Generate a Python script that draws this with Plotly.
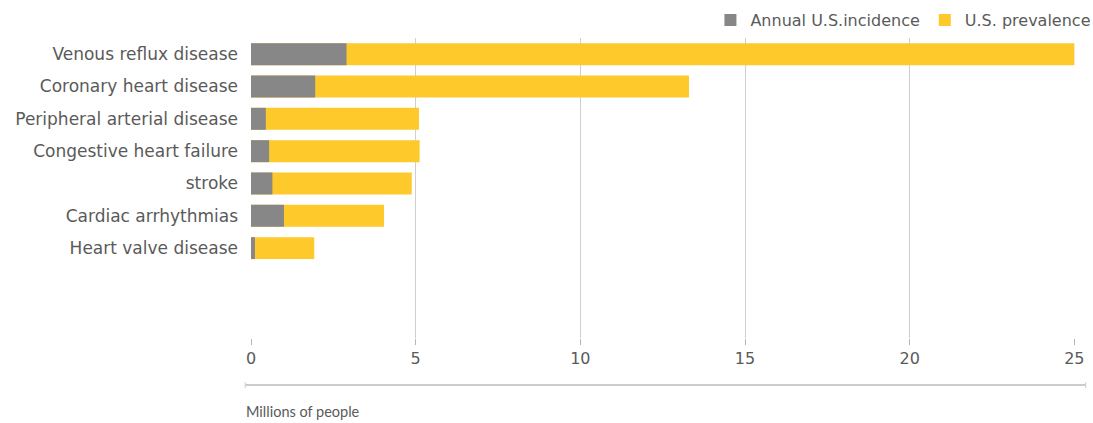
import plotly.graph_objects as go

categories = [
    "Venous reflux disease",
    "Coronary heart disease",
    "Peripheral arterial disease",
    "Congestive heart failure",
    "stroke",
    "Cardiac arrhythmias",
    "Heart valve disease",
]
prevalence = [25.0, 13.3, 5.1, 5.12, 4.88, 4.04, 1.92]
incidence = [2.9, 1.95, 0.45, 0.55, 0.65, 1.0, 0.12]
x_ticks = [0, 5, 10, 15, 20, 25]

GRAY = "#878787"
YELLOW = "#FDC92B"
TEXT = "#5a5a5a"
FONT = "DejaVu Sans"

fig = go.Figure()
fig.add_trace(go.Bar(
    y=categories, x=prevalence, orientation="h", name="U.S. prevalence",
    marker=dict(color=YELLOW, line=dict(width=0)),
))
fig.add_trace(go.Bar(
    y=categories, x=incidence, orientation="h", name="Annual U.S.incidence",
    marker=dict(color=GRAY, line=dict(width=0)),
))

fig.update_layout(
    barmode="overlay",
    bargap=0.32,
    width=1093, height=423,
    margin=dict(l=251, r=18, t=38, b=85, autoexpand=False),
    paper_bgcolor="white",
    plot_bgcolor="white",
    font=dict(family=FONT, size=15, color=TEXT),
    legend=dict(
        orientation="h", traceorder="reversed",
        x=1.026, xanchor="right", y=1.06, yanchor="middle",
        font=dict(family=FONT, size=16, color=TEXT),
        itemwidth=30,
        bgcolor="rgba(0,0,0,0)",
    ),
    xaxis=dict(
        range=[0, 25.02],
        tickvals=x_ticks,
        ticktext=[str(v) for v in x_ticks],
        showgrid=True, gridcolor="#cfcfcf", gridwidth=1,
        zeroline=False,
        ticks="outside", ticklen=6, tickcolor="#b5b5b5",
        tickfont=dict(family=FONT, size=16, color=TEXT),
        showline=False,
    ),
    yaxis=dict(
        categoryorder="array", categoryarray=categories,
        range=[8.78, -0.5],
        showgrid=False, zeroline=False, showline=False,
        ticks="", ticklabelstandoff=12,
        tickfont=dict(family=FONT, size=17, color=TEXT),
    ),
)

# bottom rule with end caps
fig.add_shape(type="line", xref="paper", yref="paper",
              x0=-0.007, x1=1.013, y0=-0.157, y1=-0.157,
              line=dict(color="#cccccc", width=2))
for xc in (-0.007, 1.013):
    fig.add_shape(type="line", xref="paper", yref="paper",
                  x0=xc, x1=xc, y0=-0.147, y1=-0.167,
                  line=dict(color="#cccccc", width=1))

fig.add_annotation(text="Millions of people", xref="paper", yref="paper",
                   x=-0.008, y=-0.245, xanchor="left", yanchor="middle",
                   showarrow=False, font=dict(family="Lato", size=14.5, color=TEXT))

fig.write_html("out.html")
